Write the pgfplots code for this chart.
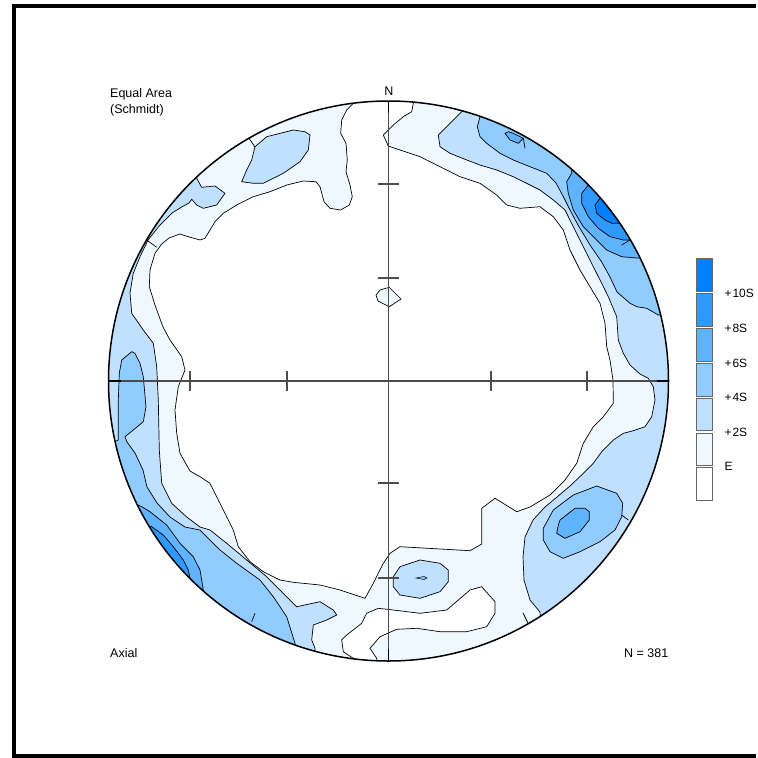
\documentclass[border=0pt]{standalone}
\usepackage{pgfplots}
\pgfplotsset{compat=1.18}
\usepackage{fontspec}
\setmainfont{Liberation Sans}
\definecolor{c1}{RGB}{240,248,255}
\definecolor{c2}{RGB}{192,224,255}
\definecolor{c3}{RGB}{144,204,255}
\definecolor{c4}{RGB}{96,180,255}
\definecolor{c5}{RGB}{48,153,255}
\definecolor{c6}{RGB}{0,128,255}
\begin{document}
\begin{tikzpicture}
\begin{axis}[width=758pt,height=758pt,scale only axis,xmin=0,xmax=758,ymin=0,ymax=758,
  y dir=reverse,hide axis,clip=false]
% base level E
\addplot[fill=c1,draw=none] coordinates {(90,90) (690,90) (690,675) (90,675)} -- cycle;
% white interior
\addplot[fill=white,draw=black,line width=0.7pt] coordinates {(353,95)(413,95)(413.3,103.3)(411.7,111.7)(403.3,116.7)(393.3,125)(383.3,135)(388.3,146)(400,150)(420,156.7)(440,166.7)(460,176.7)(480,183.3)(496.7,195)(506.7,205)(520,208.3)(540,206.7)(553.3,216.7)(563.3,230)(570,250)(580,270)(590,286.7)(600,303.3)(605,323.3)(606.7,346.7)(610,360)(613,380)(613.3,403.3)(603.3,416.7)(593.3,426.7)(583.3,443.3)(576.7,463.3)(565,480)(550,495)(530,507)(516.7,511.7)(495,498.3)(481.7,508.3)(481.7,530)(481.7,544)(470,550.7)(400,546.7)(390,553.3)(383.3,563.3)(373.3,583.3)(365,598.3)(340,590)(320,585)(293.3,582.3)(280,580)(263.3,571.7)(250,561.7)(238.3,546.7)(233.3,530)(225,513.3)(216.7,496.7)(210,483.3)(200,476.7)(190,471)(180,453.3)(176.7,433.3)(175,410)(178.3,386.7)(185,370)(181.7,356.7)(170,340)(163,327)(155,305)(149.3,286.7)(150,270)(155,253.3)(161.7,244)(169,238)(180,234)(188.3,236.7)(200,240)(205,238.3)(215,221.7)(223.3,213.3)(236.7,205)(253.3,196.7)(270,191.7)(286.7,185)(303.3,181)(316,181.7)(320,186.7)(324,201.7)(330,208.3)(340.7,210)(349.3,205)(352.3,196.7)(350,185)(346,171.7)(347.3,160)(346,143.3)(340.7,133.3)(341.7,120)(346.7,110)(353.3,103.3)} -- cycle;
% lower white lobe
\addplot[fill=white,draw=black,line width=0.7pt] coordinates {(353.3,668)(353.3,658.3)(343.3,651.7)(341.7,640)(346.7,635)(361.7,623.3)(366.7,613.3)(378.3,608.3)(393.3,610)(420,613.3)(446.7,610)(470,590)(481.7,586.7)(495,601.7)(495,613.3)(486.7,626.7)(466.7,631.7)(440,631.7)(416.7,628.3)(396.7,629.3)(380,636.7)(370,648.3)(376.7,658.3)(378,668)} -- cycle;
% small centre patch
\addplot[fill=c1,draw=black,line width=0.7pt] coordinates {(389.3,287.3)(401,299)(389.3,306.7)(378,301)(376,295)(380,290)} -- cycle;
% +2S regions
\addplot[fill=c2,draw=black,line width=0.7pt] coordinates {(190,165)(196.7,178.3)(201.7,187.3)(215,186)(225,193.3)(216.7,205)(203.3,208.3)(196.7,205)(191.7,199.3)(189,203)(181.7,207)(172,213)(160,225)(148,240)(140,256.7)(133.3,273.3)(130,293)(131.7,313.3)(143.3,330)(153.3,343.3)(156.7,366.7)(158.3,400)(159.3,450)(161.7,483.3)(171.7,503.3)(186.7,517)(200,527)(210,530)(226.7,543.3)(246.7,560)(266.7,576.7)(280,590)(296.7,606.7)(320,601.7)(333.3,610)(336.7,615)(326.7,620)(313.3,625)(311.7,640)(315,648.3)(315,690)(60,690)(60,165)} -- cycle;
\addplot[fill=c2,draw=black,line width=0.7pt] coordinates {(255,146.7)(266.7,136.7)(293.3,130)(305,131.7)(310,135)(308.3,150)(300,161.7)(283.3,173.3)(263.3,183.3)(253.3,183.3)(241.7,181.7)(246.7,170)(251.7,160)} -- cycle;
\addplot[fill=c2,draw=black,line width=0.7pt] coordinates {(393.3,576.7)(400,566.7)(420,560)(440,563.3)(448.3,570)(448.3,581.7)(440,591.7)(420,598.3)(400,595)(393.3,586.7)} -- cycle;
\addplot[fill=c2,draw=black,line width=0.7pt] coordinates {(461.7,60)(461.7,111.7)(450,123.3)(438.3,135)(440,146.7)(450,153.3)(466.7,160)(480,165)(496.7,170)(513.3,176.7)(530,185)(540,190)(553.3,200)(565,210)(573.3,226.7)(583.3,246.7)(593.3,266.7)(601.7,283.3)(608.3,296.7)(616.7,316.7)(618.3,340)(623.3,353.3)(630,365)(640,374)(648.3,378.3)(653.3,386.7)(655,400)(651.7,416.7)(645,426.7)(633.3,430.7)(623.3,433.3)(613.3,440)(601.7,451.7)(593.3,463.3)(583.3,473.3)(570,486)(557,497)(545,507)(533,520)(525,537)(523,557)(524,580)(530,600)(540,612)(545,690)(720,690)(720,60)} -- cycle;
% +4S regions
\addplot[fill=c3,draw=black,line width=0.7pt] coordinates {(480,60)(480,116.7)(477.3,126.7)(480,136.7)(486.7,143.3)(500,153.3)(513.3,160)(530,166.7)(546.7,173.3)(556,183)(563,196)(570,210)(578,225)(590,245)(601.7,262)(610,277)(617,292)(630,303.3)(636.7,306.7)(646.7,308.3)(658.3,315)(720,315)(720,60)} -- cycle;
\addplot[fill=c3,draw=black,line width=0.7pt] coordinates {(60,442)(114,442)(118.3,440)(118.3,400)(119.3,373.3)(121.7,360)(131.7,351.7)(135,353.3)(140,363.3)(143.3,376.7)(146,406.7)(143.3,421.7)(133.3,430)(125,436.7)(127,442)(135,453)(143,470)(147,487)(157,503)(170,517)(185,527)(200,530)(220,550)(236.7,563.3)(260,580)(273.3,596.7)(286.7,616.7)(295,643.3)(296,690)(60,690)} -- cycle;
\addplot[fill=c3,draw=black,line width=0.7pt] coordinates {(543.3,528.3)(553.3,510)(573.3,495)(596.7,486)(616.7,493.3)(622.7,503.3)(621.7,516.7)(615,530)(600,541.7)(580,551.7)(563.3,558.3)(550,551.7)(543.3,540)} -- cycle;
\addplot[fill=c3,draw=black,line width=0.5pt] coordinates {(416,578)(424,576.5)(427,578)(424,579.5)} -- cycle;
% +6S regions
\addplot[fill=c4,draw=black,line width=0.7pt] coordinates {(571.7,150)(571.7,173.3)(566.7,181.7)(568.3,193.3)(573.3,210)(583.3,226.7)(596.7,240)(606.7,250)(621.7,256.7)(636.7,258)(720,258)(720,150)} -- cycle;
\addplot[fill=c4,draw=black,line width=0.7pt] coordinates {(505,133.3)(508.3,131.7)(513.3,133.3)(523.3,138.3)(518.3,143.3)(510,140)} -- cycle;
\addplot[fill=c4,draw=black,line width=0.7pt] coordinates {(60,505)(138,505)(141.7,506.7)(150,511.7)(166.7,525)(180,543.3)(193.3,556.7)(200,570)(203.3,590)(204,690)(60,690)} -- cycle;
\addplot[fill=c4,draw=black,line width=0.7pt] coordinates {(558.3,525)(560,520)(575,508.3)(585,508.3)(589.3,511.7)(589.3,520)(580,531.7)(565,538.3)(556.7,533.3)} -- cycle;
% +8S regions
\addplot[fill=c5,draw=black,line width=0.7pt] coordinates {(588.3,170)(588.3,185)(581.7,193.3)(581.7,203.3)(588.3,216.7)(598.3,228.3)(610,236.7)(623.3,240)(630,240)(720,240)(720,170)} -- cycle;
\addplot[fill=c5,draw=black,line width=0.7pt] coordinates {(60,526)(149,526)(151.7,526.7)(163.3,535)(173.3,546.7)(183.3,560)(188.3,570)(190,578)(190,690)(60,690)} -- cycle;
% +10S region
\addplot[fill=c6,draw=black,line width=0.7pt] coordinates {(600,185)(600,198.3)(595,205)(596.7,213.3)(605,220)(611.7,223.3)(625,223)(720,223)(720,185)} -- cycle;
% contour fragments
\addplot[black,line width=0.7pt] coordinates {(248,137)(255,147)};
\addplot[black,line width=0.7pt] coordinates {(146.7,240)(156.7,247.3)};
\addplot[black,line width=0.7pt] coordinates {(523.3,138.3)(525,148.3)};
\addplot[black,line width=0.7pt] coordinates {(621.7,245)(630,240)};
\addplot[black,line width=0.7pt] coordinates {(251.7,621.7)(255,613.3)};
\addplot[black,line width=0.7pt] coordinates {(621.7,515)(628.3,520)};
\addplot[black,line width=0.7pt] coordinates {(523,613)(528,623)};
% mask outside the net
\fill[white,even odd rule] (axis cs:0,0) rectangle (axis cs:758,758) (axis cs:388.5,381) circle [radius=280pt];
% net
\draw[line width=1.5pt] (axis cs:388.5,381) circle [radius=280pt];
\draw[black!70,line width=1.2pt] (axis cs:108.5,381) -- (axis cs:668.5,381);
\draw[black!70,line width=1.2pt] (axis cs:388.5,101) -- (axis cs:388.5,661);
\draw[black!70,line width=1.2pt] (axis cs:190,371) -- (axis cs:190,391);
\draw[black!70,line width=1.2pt] (axis cs:287,371) -- (axis cs:287,391);
\draw[black!70,line width=1.2pt] (axis cs:491,371) -- (axis cs:491,391);
\draw[black!70,line width=1.2pt] (axis cs:587,371) -- (axis cs:587,391);
\draw[black!70,line width=1.2pt] (axis cs:378,184) -- (axis cs:399,184);
\draw[black!70,line width=1.2pt] (axis cs:378,278) -- (axis cs:399,278);
\draw[black!70,line width=1.2pt] (axis cs:378,483) -- (axis cs:399,483);
\draw[black!70,line width=1.2pt] (axis cs:378,578) -- (axis cs:399,578);
\draw[line width=1.8pt] (axis cs:388.5,101) -- (axis cs:388.5,113);
\draw[line width=1.8pt] (axis cs:388.5,649) -- (axis cs:388.5,661);
\draw[line width=1.8pt] (axis cs:108.5,381) -- (axis cs:120.5,381);
\draw[line width=1.8pt] (axis cs:656.5,381) -- (axis cs:668.5,381);
% texts
\node[anchor=base west,inner sep=0pt,font=\fontsize{12.5}{15}\selectfont] at (axis cs:110,97.5) {Equal Area};
\node[anchor=base west,inner sep=0pt,font=\fontsize{12.5}{15}\selectfont] at (axis cs:110,113.5) {(Schmidt)};
\node[anchor=base,inner sep=0pt,font=\fontsize{12.5}{15}\selectfont] at (axis cs:389,95) {N};
\node[anchor=base west,inner sep=0pt,font=\fontsize{12.5}{15}\selectfont] at (axis cs:110,657.5) {Axial};
\node[anchor=base east,inner sep=0pt,font=\fontsize{12.5}{15}\selectfont] at (axis cs:668.5,657.5) {N = 381};
% key
\draw[black!60,fill=c6] (axis cs:696.5,258.3) rectangle (axis cs:712.5,290.8);
\draw[black!60,fill=c5] (axis cs:696.5,293.3) rectangle (axis cs:712.5,325.8);
\draw[black!60,fill=c4] (axis cs:696.5,328.3) rectangle (axis cs:712.5,360.8);
\draw[black!60,fill=c3] (axis cs:696.5,363.3) rectangle (axis cs:712.5,395.8);
\draw[black!60,fill=c2] (axis cs:696.5,398.3) rectangle (axis cs:712.5,430.3);
\draw[black!60,fill=c1] (axis cs:696.5,432.7) rectangle (axis cs:712.5,465.0);
\draw[black!60,fill=white] (axis cs:696.5,467.3) rectangle (axis cs:712.5,499.8);
\node[anchor=west,inner sep=0pt,font=\fontsize{12}{14}\selectfont] at (axis cs:724.5,293) {+\kern0.8pt10S};
\node[anchor=west,inner sep=0pt,font=\fontsize{12}{14}\selectfont] at (axis cs:724.5,328) {+\kern0.8pt8S};
\node[anchor=west,inner sep=0pt,font=\fontsize{12}{14}\selectfont] at (axis cs:724.5,363) {+\kern0.8pt6S};
\node[anchor=west,inner sep=0pt,font=\fontsize{12}{14}\selectfont] at (axis cs:724.5,397.5) {+\kern0.8pt4S};
\node[anchor=west,inner sep=0pt,font=\fontsize{12}{14}\selectfont] at (axis cs:724.5,432.5) {+\kern0.8pt2S};
\node[anchor=west,inner sep=0pt,font=\fontsize{12}{14}\selectfont] at (axis cs:724.5,466.5) {E};
% frame (right side lies beyond the picture)
\draw[line width=4pt] (axis cs:755.8,6) -- (axis cs:14,6) -- (axis cs:14,755.5) -- (axis cs:755.8,755.5);
\end{axis}
\end{tikzpicture}
\end{document}
